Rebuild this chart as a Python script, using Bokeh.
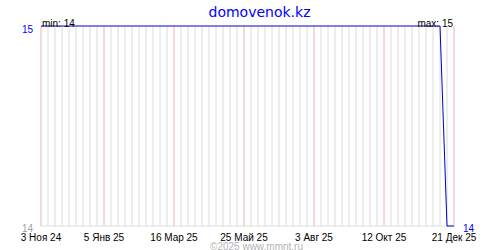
from datetime import datetime, timedelta
from bokeh.plotting import figure
from bokeh.models import Range1d, Label
from bokeh.embed import file_html
from bokeh.resources import INLINE

# ---- data ----
title_text = "domovenok.kz"
credit_text = "©2025 www.mmnt.ru"
start_date = "2024-11-03"
values = [15, 15, 15, 15, 15, 15, 15, 15, 15, 15,
          15, 15, 15, 15, 15, 15, 15, 15, 15, 15,
          15, 15, 15, 15, 15, 15, 15, 15, 15, 15,
          15, 15, 15, 15, 15, 15, 15, 15, 15, 15,
          15, 15, 15, 15, 15, 15, 15, 15, 15, 15,
          15, 15, 15, 15, 15, 15, 15, 15, 14, 14]
tick_dates = ["2024-11-03", "2025-01-05", "2025-03-16", "2025-05-25",
              "2025-08-03", "2025-10-12", "2025-12-21"]
tick_labels = ["3 Ноя 24", "5 Янв 25", "16 Мар 25", "25 Май 25",
               "3 Авг 25", "12 Окт 25", "21 Дек 25"]
y_min_label = "14"
y_max_label = "15"

d0 = datetime.strptime(start_date, "%Y-%m-%d")
dates = [d0 + timedelta(weeks=i) for i in range(len(values))]
ticks = [datetime.strptime(t, "%Y-%m-%d") for t in tick_dates]
vmin, vmax = min(values), max(values)
last = dates[-1]

# ---- figure ----
px_per_unit = 200.0
x_start = d0 - timedelta(days=40.5)
x_end = x_start + timedelta(days=500)
y_top = vmax + 25.5 / px_per_unit
y_bot = y_top - 250 / px_per_unit

p = figure(width=500, height=250, x_axis_type="datetime",
           x_range=Range1d(x_start, x_end), y_range=Range1d(y_bot, y_top),
           toolbar_location=None, output_backend="svg", min_border=0,
           background_fill_color="white", border_fill_color="white")
p.axis.visible = False
p.grid.visible = False
p.outline_line_color = None

# weekly grid lines
p.segment(x0=dates, y0=[vmin] * len(dates), x1=dates, y1=[vmax] * len(dates),
          line_color="#dcdcdc", line_width=1)
# label grid lines
p.segment(x0=ticks, y0=[vmin] * len(ticks), x1=ticks, y1=[vmax] * len(ticks),
          line_color="#ffc4c4", line_width=1)
# bottom axis line
p.segment(x0=[d0], y0=[vmin], x1=[last], y1=[vmin], line_color="#dcdcdc", line_width=1)

# data line
p.line(x=dates, y=values, line_color="#0000cc", line_width=1)

FONT = "Liberation Sans"

def lab(text, x, y, color="black", align="left", xo=0, yo=0, size="10px",
        font=FONT, xu="data", yu="data"):
    p.add_layout(Label(x=x, y=y, x_units=xu, y_units=yu, text=text, x_offset=xo, y_offset=yo,
                       text_align=align, text_baseline="alphabetic", text_color=color,
                       text_font=font, text_font_size=size))

# title and credit
lab(title_text, 259, 238.5, color="#0000ff", align="center", size="14px",
    font="DejaVu Sans", xu="screen", yu="screen")
lab(credit_text, 256, 4.5, color="#b4b4b4", align="center", xu="screen", yu="screen")

# min / max
lab("min: " + str(vmin), d0, vmax, xo=1, yo=3)
lab("max: " + str(vmax), last, vmax, align="right", xo=-1, yo=3)

# y labels
lab(y_max_label, d0, vmax, color="#0000ff", align="right", xo=-8, yo=-2.5)
lab(y_min_label, d0, vmin, color="#a0a0a0", align="right", xo=-8, yo=-1.5)
lab(str(values[-1]), last, vmin, color="#0000ff", align="left", xo=9, yo=-1.5)

# x tick labels
for t, s in zip(ticks, tick_labels):
    lab(s, t, vmin, align="center", yo=-11)

open("out.html", "w").write(file_html(p, INLINE))
